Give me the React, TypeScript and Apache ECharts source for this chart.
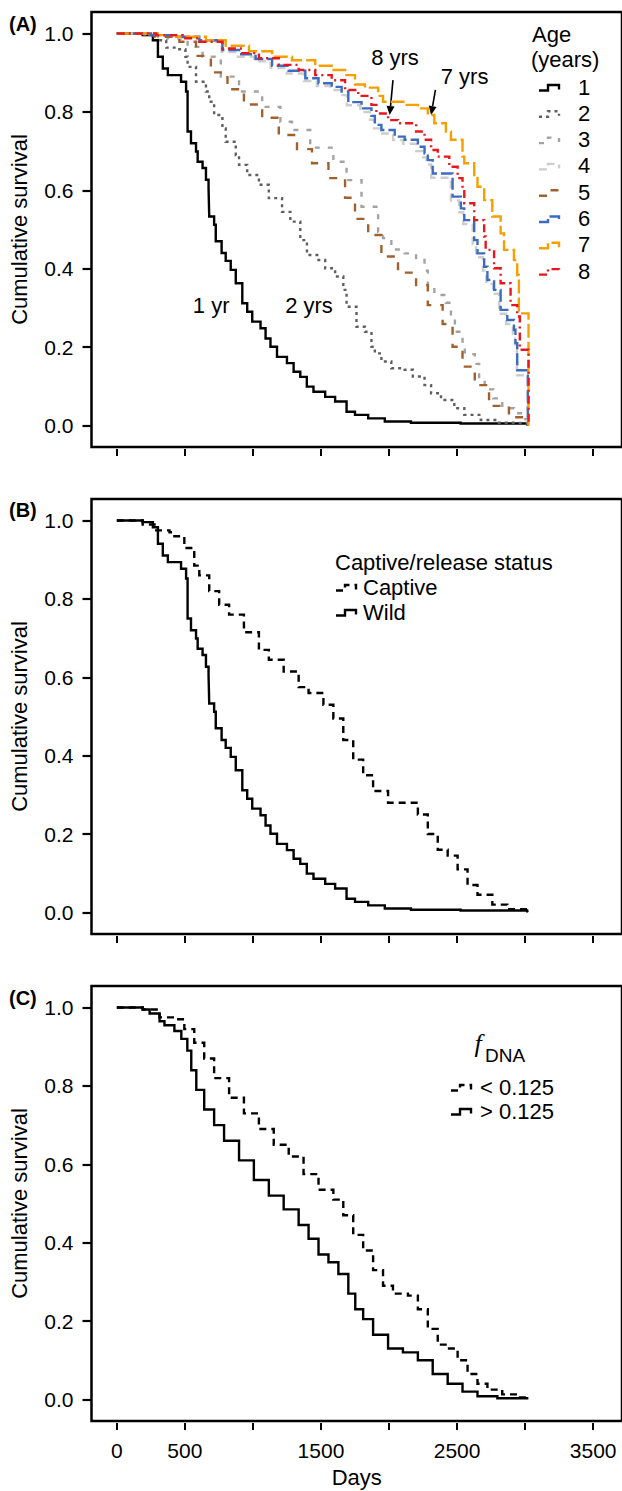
import React, { useEffect, useRef } from 'react';
import * as echarts from 'echarts';

const FONT = '"Liberation Sans", Arial, Helvetica, sans-serif';

// ---- axis ticks / labels ----
const xTickValues = [0, 500, 1000, 1500, 2000, 2500, 3000, 3500];
const xLabelValues = [0, 500, 1500, 2500, 3500];
const yTickValues = [0, 0.2, 0.4, 0.6, 0.8, 1.0];

// ---- Panel A: age classes ----
const ageLabels = ['1', '2', '3', '4', '5', '6', '7', '8'];

const age1Days = [0, 190, 265, 302, 338, 375, 472, 509, 520, 545, 582, 594, 630, 655, 674, 679, 715, 727, 770, 800, 837, 874, 922, 958, 995, 1056, 1093, 1129, 1177, 1250, 1299, 1348, 1396, 1445, 1531, 1604, 1688, 1750, 1847, 1969, 2161, 2526, 3015, 3020];
const age1Surv = [1, 0.996, 0.983, 0.941, 0.911, 0.894, 0.877, 0.852, 0.75, 0.72, 0.699, 0.673, 0.657, 0.627, 0.606, 0.533, 0.512, 0.47, 0.44, 0.42, 0.397, 0.363, 0.312, 0.29, 0.265, 0.248, 0.222, 0.201, 0.175, 0.159, 0.137, 0.124, 0.099, 0.086, 0.073, 0.061, 0.035, 0.027, 0.018, 0.01, 0.007, 0.005, 0.003, 0];

const age2Days = [0, 192, 302, 363, 436, 504, 520, 582, 655, 679, 715, 776, 800, 874, 898, 958, 1044, 1117, 1214, 1275, 1348, 1397, 1482, 1531, 1604, 1664, 1688, 1761, 1823, 1871, 1896, 1944, 2017, 2115, 2175, 2261, 2309, 2382, 2480, 2553, 2674, 2796, 2918, 3015, 3020];
const age2Surv = [1, 0.996, 0.983, 0.964, 0.96, 0.941, 0.915, 0.877, 0.852, 0.826, 0.792, 0.758, 0.724, 0.69, 0.665, 0.639, 0.614, 0.58, 0.545, 0.52, 0.473, 0.435, 0.422, 0.401, 0.38, 0.346, 0.303, 0.252, 0.239, 0.201, 0.184, 0.163, 0.146, 0.142, 0.125, 0.103, 0.082, 0.065, 0.044, 0.027, 0.014, 0.007, 0.006, 0.005, 0];

const age3Days = [0, 230, 375, 520, 630, 764, 898, 1068, 1202, 1287, 1421, 1591, 1688, 1798, 1920, 1956, 2017, 2115, 2199, 2261, 2285, 2333, 2418, 2455, 2484, 2540, 2557, 2630, 2662, 2703, 2766, 2832, 2918, 2990, 3020];
const age3Surv = [1, 0.996, 0.988, 0.966, 0.941, 0.89, 0.852, 0.813, 0.775, 0.754, 0.709, 0.673, 0.626, 0.558, 0.494, 0.478, 0.449, 0.439, 0.422, 0.395, 0.358, 0.333, 0.313, 0.278, 0.239, 0.214, 0.182, 0.157, 0.12, 0.092, 0.069, 0.044, 0.031, 0.016, 0];

const age4Days = [0, 240, 430, 600, 770, 890, 1010, 1130, 1250, 1375, 1470, 1570, 1640, 1690, 1790, 1860, 1890, 1935, 2030, 2105, 2200, 2250, 2275, 2310, 2455, 2515, 2545, 2615, 2640, 2690, 2715, 2765, 2810, 2860, 2910, 2925, 2940, 3020];
const age4Surv = [1, 0.996, 0.99, 0.98, 0.953, 0.941, 0.929, 0.912, 0.898, 0.879, 0.866, 0.856, 0.843, 0.817, 0.8, 0.78, 0.758, 0.745, 0.728, 0.719, 0.7, 0.684, 0.666, 0.632, 0.574, 0.544, 0.514, 0.463, 0.429, 0.395, 0.361, 0.336, 0.285, 0.259, 0.233, 0.198, 0.128, 0];

const age5Days = [0, 240, 277, 460, 582, 691, 813, 934, 1068, 1190, 1324, 1434, 1555, 1677, 1750, 1847, 1944, 2066, 2199, 2285, 2394, 2467, 2540, 2630, 2735, 2881, 2990, 3020];
const age5Surv = [1, 0.996, 0.992, 0.979, 0.943, 0.901, 0.858, 0.819, 0.785, 0.741, 0.705, 0.669, 0.631, 0.581, 0.527, 0.486, 0.431, 0.39, 0.358, 0.307, 0.259, 0.201, 0.15, 0.103, 0.05, 0.021, 0.012, 0];

const age6Days = [0, 250, 436, 606, 776, 898, 1020, 1141, 1263, 1385, 1482, 1579, 1652, 1701, 1798, 1871, 1896, 1944, 2042, 2115, 2212, 2261, 2285, 2321, 2467, 2528, 2553, 2626, 2650, 2699, 2723, 2772, 2820, 2869, 2918, 2929, 2942, 3020];
const age6Surv = [1, 0.996, 0.992, 0.983, 0.958, 0.947, 0.935, 0.918, 0.905, 0.886, 0.873, 0.864, 0.852, 0.825, 0.809, 0.79, 0.767, 0.754, 0.737, 0.729, 0.711, 0.694, 0.677, 0.643, 0.584, 0.554, 0.524, 0.473, 0.439, 0.405, 0.371, 0.346, 0.295, 0.269, 0.244, 0.21, 0.141, 0];

const age7Days = [0, 300, 436, 655, 800, 971, 1141, 1287, 1458, 1579, 1677, 1750, 1823, 1920, 1956, 2115, 2212, 2285, 2333, 2418, 2455, 2540, 2553, 2626, 2650, 2699, 2759, 2820, 2845, 2918, 2942, 2954, 3025];
const age7Surv = [1, 0.996, 0.992, 0.983, 0.969, 0.955, 0.941, 0.932, 0.918, 0.907, 0.894, 0.87, 0.862, 0.841, 0.826, 0.818, 0.809, 0.792, 0.771, 0.75, 0.729, 0.686, 0.669, 0.635, 0.609, 0.575, 0.533, 0.49, 0.448, 0.422, 0.384, 0.286, 0];

const age8Days = [0, 290, 484, 606, 776, 922, 1044, 1190, 1336, 1458, 1579, 1677, 1774, 1871, 1907, 1993, 2066, 2199, 2261, 2309, 2358, 2443, 2504, 2540, 2553, 2626, 2699, 2710, 2772, 2820, 2893, 2942, 2961, 3025];
const age8Surv = [1, 0.996, 0.988, 0.979, 0.962, 0.95, 0.937, 0.92, 0.907, 0.894, 0.881, 0.856, 0.841, 0.818, 0.796, 0.779, 0.771, 0.75, 0.729, 0.703, 0.686, 0.66, 0.631, 0.601, 0.567, 0.524, 0.482, 0.448, 0.401, 0.363, 0.307, 0.278, 0.193, 0];

// ---- Panel B: captive / wild ----
const statusLabels = ['Captive', 'Wild'];
const captiveDays = [0, 190, 277, 387, 423, 496, 569, 606, 679, 752, 825, 934, 1044, 1117, 1226, 1336, 1409, 1518, 1591, 1664, 1737, 1810, 1883, 1993, 2212, 2285, 2358, 2431, 2504, 2577, 2650, 2759, 2869, 3015, 3020];
const captiveSurv = [1, 0.99, 0.975, 0.97, 0.96, 0.93, 0.885, 0.86, 0.82, 0.785, 0.76, 0.715, 0.67, 0.645, 0.615, 0.575, 0.56, 0.53, 0.495, 0.44, 0.39, 0.35, 0.31, 0.28, 0.25, 0.2, 0.16, 0.145, 0.11, 0.07, 0.045, 0.02, 0.008, 0.002, 0];
const wildDays = age1Days;
const wildSurv = age1Surv;

// ---- Panel C: fDNA ----
const fdnaLabels = ['< 0.125', '> 0.125'];
const lowDays = [0, 190, 314, 423, 496, 569, 642, 715, 825, 934, 1044, 1153, 1263, 1372, 1482, 1591, 1664, 1737, 1810, 1883, 1956, 2029, 2139, 2212, 2285, 2358, 2431, 2504, 2577, 2650, 2723, 2832, 2942, 3015];
const lowSurv = [1, 0.995, 0.975, 0.97, 0.945, 0.91, 0.87, 0.82, 0.77, 0.73, 0.69, 0.65, 0.62, 0.575, 0.535, 0.51, 0.47, 0.42, 0.38, 0.33, 0.29, 0.27, 0.265, 0.23, 0.18, 0.14, 0.13, 0.1, 0.065, 0.04, 0.025, 0.013, 0.005, 0];
const highDays = [0, 190, 241, 314, 350, 423, 474, 518, 547, 584, 642, 715, 788, 898, 1007, 1117, 1226, 1336, 1409, 1482, 1555, 1628, 1701, 1752, 1810, 1883, 1993, 2102, 2212, 2321, 2431, 2540, 2650, 2796, 3015];
const highSurv = [1, 0.995, 0.985, 0.965, 0.955, 0.94, 0.92, 0.89, 0.84, 0.79, 0.74, 0.7, 0.66, 0.61, 0.56, 0.52, 0.485, 0.445, 0.41, 0.37, 0.35, 0.32, 0.27, 0.23, 0.205, 0.165, 0.13, 0.12, 0.1, 0.065, 0.04, 0.02, 0.008, 0.003, 0];

// ---- styles ----
const ageColors = ['#000000', '#5f5f5f', '#a3a3a3', '#cdcdcd', '#a0612e', '#3b6cc0', '#f59f00', '#e8161e'];
const ageDashes: (number[] | null)[] = [null, [3, 4], [5, 8], [8, 5], [8, 9], [12, 4], [14, 4], [8, 4, 2, 4]];
const LW = 2.4;

const zip = (d: number[], s: number[]) => d.map((v, i) => [v, s[i]]);

const GRID_LEFT = 91.5;
const GRID_W = 534;
const GRID_H = 435;
const gridTops = [12, 499, 986];
const X_MIN = -186;
const X_MAX = X_MIN + GRID_W / 0.137;
const Y_MIN = -0.055;
const Y_MAX = 1.055;

function buildOption() {
  const grids = gridTops.map((t) => ({
    left: GRID_LEFT, top: t, width: GRID_W, height: GRID_H,
    show: true, borderColor: '#000', borderWidth: 2.5, backgroundColor: 'transparent',
  }));
  const xAxes = gridTops.map((_, i) => ({
    gridIndex: i, type: 'value', min: X_MIN, max: X_MAX, offset: 2, position: 'bottom',
    axisLine: { show: false, onZero: false }, splitLine: { show: false },
    axisTick: { show: true, length: 7, lineStyle: { color: '#000', width: 2 }, customValues: xTickValues },
    axisLabel: { show: i === 2, customValues: xLabelValues, formatter: (v: number) => String(v), fontSize: 21, fontFamily: FONT, color: '#000', margin: 17 },
    name: i === 2 ? 'Days' : '', nameLocation: 'middle', nameGap: 43,
    nameTextStyle: { fontSize: 22, fontFamily: FONT, color: '#000' },
  }));
  const yAxes = gridTops.map((_, i) => ({
    gridIndex: i, type: 'value', min: Y_MIN, max: Y_MAX, position: 'left',
    axisLine: { show: false, onZero: false }, splitLine: { show: false },
    axisTick: { show: true, inside: false, length: 9, lineStyle: { color: '#000', width: 2.2 }, customValues: yTickValues },
    axisLabel: { customValues: yTickValues, formatter: (v: number) => v.toFixed(1), fontSize: 21, fontFamily: FONT, color: '#000', margin: 18 },
    name: 'Cumulative survival', nameLocation: 'middle', nameGap: 61,
    nameTextStyle: { fontSize: 22, fontFamily: FONT, color: '#000' },
  }));

  const mk = (name: string, d: number[], s: number[], color: string, dash: number[] | null, gi: number) => ({
    name, type: 'line', step: 'end', symbol: 'none', xAxisIndex: gi, yAxisIndex: gi,
    data: zip(d, s),
    lineStyle: { color, width: LW, type: dash ? dash : 'solid', cap: 'butt', join: 'miter' },
    silent: true, z: 2,
  });

  const ageData = [
    [age1Days, age1Surv], [age2Days, age2Surv], [age3Days, age3Surv], [age4Days, age4Surv],
    [age5Days, age5Surv], [age6Days, age6Surv], [age7Days, age7Surv], [age8Days, age8Surv],
  ];
  const series: any[] = ageData.map(([d, s], i) => mk('Age ' + ageLabels[i], d, s, ageColors[i], ageDashes[i], 0));
  series.push(mk(statusLabels[0], captiveDays, captiveSurv, '#000', [7, 5], 1));
  series.push(mk(statusLabels[1], wildDays, wildSurv, '#000', null, 1));
  series.push(mk(fdnaLabels[0], lowDays, lowSurv, '#000', [7, 5], 2));
  series.push(mk(fdnaLabels[1], highDays, highSurv, '#000', null, 2));

  return {
    animation: false,
    backgroundColor: '#fff',
    grid: grids, xAxis: xAxes, yAxis: yAxes, series,
  };
}

const txt = (text: string, x: number, y: number, size: number, extra: any = {}) => ({
  type: 'text', x, y, silent: true,
  style: { text, fontSize: size, fontFamily: FONT, fill: '#000', align: 'left', verticalAlign: 'middle', ...extra },
});

const stepIcon = (x: number, y: number, color: string, dash: number[] | null) => ({
  type: 'polyline', silent: true,
  shape: { points: [[x, y + 3.5], [x + 9, y + 3.5], [x + 9, y - 2], [x + 20, y - 2], [x + 20, y + 2.5]] },
  style: { stroke: color, lineWidth: LW, fill: null, lineDash: dash || null },
});

export default function App() {
  const ref = useRef<HTMLDivElement>(null);
  useEffect(() => {
    const chart = echarts.init(ref.current!, null, { renderer: 'svg' });
    chart.setOption(buildOption());

    const P = (d: number, s: number, gi = 0) => chart.convertToPixel({ gridIndex: gi } as any, [d, s]) as number[];
    const g: any[] = [];

    // panel labels
    ['(A)', '(B)', '(C)'].forEach((t, i) => {
      g.push(txt(t, 9, [24, 510, 998][i], 20, { fontWeight: 'bold' }));
    });

    // Age legend
    g.push(txt('Age', 532, 34, 22));
    g.push(txt('(years)', 531, 59, 22));
    ageLabels.forEach((l, i) => {
      const y = 87 + i * 26.3;
      g.push(stepIcon(539, y, ageColors[i], ageDashes[i]));
      g.push(txt(l, 578, y, 22));
    });

    // annotations (data coordinates)
    const ann = [['1 yr', 693, 0.305], ['2 yrs', 1412, 0.307], ['8 yrs', 2044, 0.938], ['7 yrs', 2555, 0.89]] as [string, number, number][];
    ann.forEach(([t, d, s]) => {
      const [x, y] = P(d, s);
      g.push(txt(t, x, y, 22, { align: 'center' }));
    });
    const arrows = [[2029, 0.881, 2005, 0.792], [2341, 0.856, 2309, 0.792]];
    arrows.forEach(([d1, s1, d2, s2]) => {
      const [x1, y1] = P(d1, s1);
      const [x2, y2] = P(d2, s2);
      const dx = x2 - x1, dy = y2 - y1;
      const len = Math.hypot(dx, dy);
      const ux = dx / len, uy = dy / len;
      const hl = 9, hw = 4;
      const bx = x2 - ux * hl, by = y2 - uy * hl;
      g.push({ type: 'line', silent: true, shape: { x1, y1, x2: bx, y2: by }, style: { stroke: '#000', lineWidth: 1.6 } });
      g.push({
        type: 'polygon', silent: true,
        shape: { points: [[x2, y2], [bx - uy * hw, by + ux * hw], [bx + uy * hw, by - ux * hw]] },
        style: { fill: '#000' },
      });
    });

    // Panel B legend
    g.push(txt('Captive/release status', 335, 562, 22));
    g.push(stepIcon(336, 587, '#000', [7, 5]));
    g.push(txt(statusLabels[0], 363, 587, 22));
    g.push(stepIcon(336, 612, '#000', null));
    g.push(txt(statusLabels[1], 363, 612, 22));

    // Panel C legend
    g.push({ type: 'text', x: 478, y: 1043, silent: true, style: { text: 'f', fontSize: 26, fontFamily: '"Liberation Serif", "DejaVu Serif", serif', fontStyle: 'italic', fill: '#000', align: 'center', verticalAlign: 'middle' } });
    g.push(txt('DNA', 485, 1055, 19));
    g.push(stepIcon(451, 1087, '#000', [7, 5]));
    g.push(txt(fdnaLabels[0], 480, 1087, 22));
    g.push(stepIcon(451, 1111, '#000', null));
    g.push(txt(fdnaLabels[1], 480, 1111, 22));

    chart.setOption({ graphic: g });
    return () => chart.dispose();
  }, []);
  return <div ref={ref} style={{ position: 'absolute', left: 0, top: 0, width: 622, height: 1491 }} />;
}
